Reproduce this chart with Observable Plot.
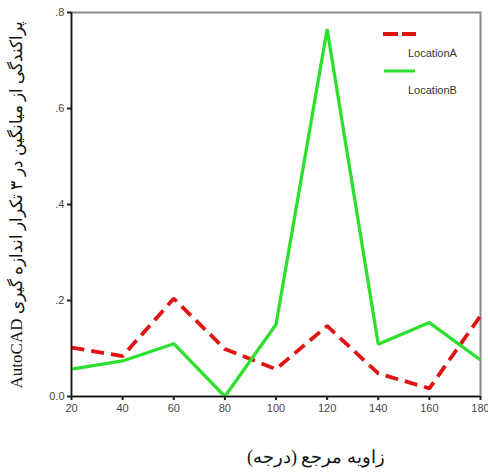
<!DOCTYPE html>
<html>
<head>
<meta charset="utf-8">
<script src="https://cdn.jsdelivr.net/npm/d3@7"></script>
<script src="https://cdn.jsdelivr.net/npm/@observablehq/plot@0.6"></script>
<style>
  html, body { margin: 0; padding: 0; background: #fff; }
  #wrap { position: relative; width: 488px; height: 474px; }
  #legend { position: absolute; left: 383px; top: 27px; width: 100px; font-family: "Liberation Sans", Arial, sans-serif; font-size: 11px; color: #333; }
  #legend .row { position: relative; height: 37px; }
  #legend svg { position: absolute; left: 0; top: 0; }
  #legend span { position: absolute; left: 25px; top: 20px; }
</style>
</head>
<body>
<div id="wrap"></div>
<script>
const angles = [20, 40, 60, 80, 100, 120, 140, 160, 180];
const locationA = [0.102, 0.084, 0.204, 0.099, 0.057, 0.147, 0.048, 0.017, 0.168];
const locationB = [0.057, 0.074, 0.110, 0.000, 0.150, 0.765, 0.109, 0.154, 0.076];
const yTicks = [0, 0.2, 0.4, 0.6, 0.8];
const seriesNames = ["LocationA", "LocationB"];
const xLabel = "زاویه مرجع (درجه)";
const yLabel = "پراکندگی از میانگین در ۳ تکرار اندازه گیری AutoCAD";

const dataA = angles.map((a, i) => ({angle: a, value: locationA[i]}));
const dataB = angles.map((a, i) => ({angle: a, value: locationB[i]}));

const labelFont = "'Liberation Serif', 'DejaVu Serif', serif";

const chart = Plot.plot({
  width: 488,
  height: 474,
  marginLeft: 71,
  marginRight: 8,
  marginTop: 12,
  marginBottom: 78,
  style: {fontFamily: "'Liberation Sans', Arial, sans-serif", fontSize: "10px", color: "#444", background: "#fff"},
  x: {domain: [20, 180]},
  y: {domain: [0, 0.8]},
  marks: [
    Plot.frame({stroke: "#8a8a8a", strokeWidth: 2}),
    Plot.line(dataA, {x: "angle", y: "value", stroke: "#e01414", strokeWidth: 3.8, strokeDasharray: "13,7", strokeLinecap: "butt", strokeLinejoin: "miter"}),
    Plot.line(dataB, {x: "angle", y: "value", stroke: "#2ee02e", strokeWidth: 3.3, strokeLinejoin: "miter", strokeLinecap: "butt"}),
    Plot.ruleX([20], {stroke: "#111", strokeWidth: 1.5}),
    Plot.ruleY([0], {stroke: "#111", strokeWidth: 1.5}),
    Plot.axisX({ticks: angles, tickSize: 4, tickPadding: 4, label: null, fontSize: 11, stroke: "#222", strokeWidth: 2}),
    Plot.axisY({ticks: yTicks, tickSize: 4, tickPadding: 3, label: null, fontSize: 11, stroke: "#222", strokeWidth: 2,
      tickFormat: d => d === 0 ? "0.0" : d.toFixed(1).replace(/^0/, "")}),
    Plot.text([xLabel], {text: d => d, frameAnchor: "bottom", textAnchor: "middle", dx: 40, dy: 66, fontSize: 18, fontFamily: labelFont, fill: "#111"}),
    Plot.text([yLabel], {text: d => d, frameAnchor: "left", textAnchor: "middle", dx: -55, rotate: -90, fontSize: 17, fontFamily: labelFont, fill: "#111"})
  ]
});

d3.select(chart).selectAll("g[aria-label='text'] text")
  .filter(function () { return this.textContent === yLabel || this.textContent === xLabel; })
  .attr("direction", "rtl")
  .attr("unicode-bidi", "embed");

const wrap = document.getElementById("wrap");
wrap.appendChild(chart);

const legend = document.createElement("div");
legend.id = "legend";
legend.innerHTML = `
  <div class="row"><svg width="36" height="14"><line x1="0" y1="7" x2="33" y2="7" stroke="#e01414" stroke-width="4" stroke-dasharray="15,4"/></svg><span>${seriesNames[0]}</span></div>
  <div class="row"><svg width="36" height="14"><line x1="1" y1="7" x2="32" y2="7" stroke="#2ee02e" stroke-width="3"/></svg><span>${seriesNames[1]}</span></div>`;
wrap.appendChild(legend);
</script>
</body>
</html>
